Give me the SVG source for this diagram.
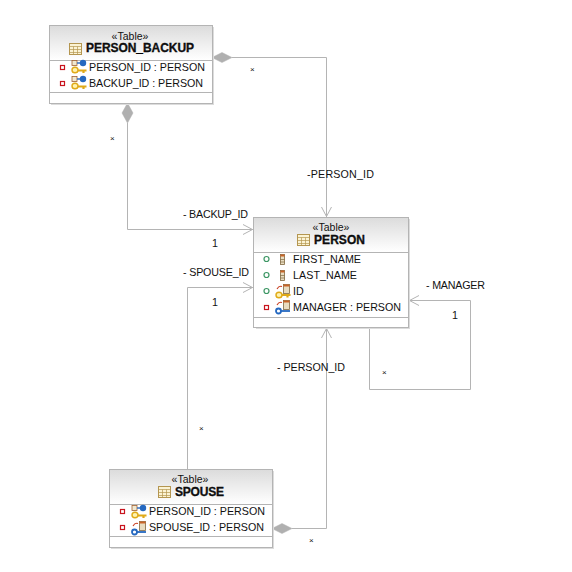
<svg xmlns="http://www.w3.org/2000/svg" width="572" height="572" viewBox="0 0 572 572">
<style>
text{font-family:"Liberation Sans",Arial,sans-serif;font-size:10.7px;fill:#111}
.st{font-size:10.500px;text-anchor:middle}
.ti{font-weight:bold;font-size:12px;stroke:#000;stroke-width:.3}
.box{fill:#fff;stroke:#b4b4b4;stroke-width:1}
.shadow{fill:#dcdcdc}
.sep{stroke:#b4b4b4;stroke-width:1}
.c{fill:none;stroke:#b4b4b4;stroke-width:1}
.d{fill:#b0b0b0;stroke:#b0b0b0;stroke-width:.5}
.sm{font-size:8px}
.vr{fill:#fff;stroke:#c8141e;stroke-width:1.200}
.vg{fill:#fff;stroke:#3c9664;stroke-width:1.200}
.tg{fill:#fbf3d4;stroke:#b49650;stroke-width:1}
.tl{stroke:#b49650;stroke-width:.7}
.key{fill:none;stroke:#e0aa18;stroke-width:2.200}
.bkey{fill:none;stroke:#2468c0;stroke-width:1.800}
.col{fill:#e8dcc0;stroke:#806840;stroke-width:.8}
.colr{fill:#c86428}
</style>
<defs>
<linearGradient id="hdr" x1="0" y1="0" x2="0" y2="1"><stop offset="0" stop-color="#dcdcdc"/><stop offset="1" stop-color="#ffffff"/></linearGradient>
<g id="tbl"><rect class="tg" x="0.500" y="0.500" width="12" height="11"/><path class="tl" d="M0.500 3.500H12.500M0.500 6.500H12.500M0.500 9.500H12.500M4.500 3.500V11.500M8.500 3.500V11.500"/></g>
<g id="column"><rect class="col" x="0.500" y="0.500" width="4" height="10"/><rect class="colr" x="0.500" y="0.500" width="4" height="2"/><path d="M0.500 5.500H4.500M0.500 8H4.500" stroke="#806840" stroke-width=".7"/></g>
<g id="pfk"><rect x="1" y="0.500" width="5" height="5" fill="#f0e8d0" stroke="#a06030" stroke-width=".8"/><path d="M6 3h4" stroke="#2468c0" stroke-width="1.400"/><circle cx="12" cy="3" r="3.200" fill="#2468c0"/><ellipse cx="4" cy="10" rx="3" ry="2.800" fill="#fff3b0" stroke="#e0aa18" stroke-width="1.400"/><path class="key" d="M7 10.500H15.500M12.500 10.500v2.500"/></g>
<g id="pk"><rect x="8.500" y="0.500" width="6" height="9" class="col"/><path d="M8.500 0.500h6v2h-6z" fill="#c86428"/><path d="M2 5q2-3.500 5-2.500" fill="none" stroke="#c83c1e" stroke-width="1.100"/><ellipse cx="4" cy="11" rx="3" ry="2.800" fill="#fff3b0" stroke="#e0aa18" stroke-width="1.400"/><path class="key" d="M7 11H15.500M12.500 11v2.500"/></g>
<g id="fk"><rect x="8.500" y="0.500" width="6" height="9" class="col"/><path d="M8.500 0.500h6v2h-6z" fill="#c86428"/><path d="M2 5q2-3.500 5-2.500" fill="none" stroke="#c83c1e" stroke-width="1.100"/><circle class="bkey" cx="3.500" cy="11" r="2.500" fill="#fff"/><path class="bkey" d="M6 11H15"/></g>
</defs>
<g id="connectors">
<path class="c" d="M232 57.500H326.500V217"/><path class="c" d="M321.500 207L326.500 216.500L331.500 207"/>
<polygon class="d" points="212,57.500 222,52.500 232,57.500 222,62.500"/>
<path class="c" d="M127.500 123V229.500H253"/><path class="c" d="M243 224.500L252.500 229.500L243 234.500"/>
<polygon class="d" points="127.500,103 133,113 127.500,123 122,113"/>
<path class="c" d="M187.500 469V287.500H253"/><path class="c" d="M243 282.500L252.500 287.500L243 292.500"/>
<path class="c" d="M292 528.500H326.500V328"/><path class="c" d="M321.500 338L326.500 328.500L331.500 338"/>
<polygon class="d" points="272,528.500 282,523.500 292,528.500 282,533.500"/>
<path class="c" d="M369.500 327V389.500H470.500V300.500H409"/><path class="c" d="M419 295.500L409.500 300.500L419 305.500"/>
<text x="183" y="218" textLength="65">- BACKUP_ID</text>
<text x="183" y="276" textLength="66">- SPOUSE_ID</text>
<text x="307" y="178" textLength="67">-PERSON_ID</text>
<text x="277" y="371" textLength="68">- PERSON_ID</text>
<text x="426" y="289" textLength="59">- MANAGER</text>
<text x="212" y="247">1</text>
<text x="212" y="306">1</text>
<text x="452" y="319">1</text>
<text class="sm" x="250" y="72">×</text>
<text class="sm" x="110" y="141">×</text>
<text class="sm" x="199" y="431">×</text>
<text class="sm" x="382" y="375">×</text>
<text class="sm" x="309" y="543">×</text>
</g>
<g id="person-backup">
<rect class="shadow" x="51" y="27" width="163" height="78"/>
<rect class="box" x="49.500" y="25.500" width="163" height="78"/>
<rect x="50" y="26" width="162" height="34" fill="url(#hdr)"/>
<path class="sep" d="M49.500 60.500H212.500M49.500 92.500H212.500"/>
<text class="st" x="130" y="40">«Table»</text>
<use href="#tbl" x="69" y="43"/>
<text class="ti" x="86" y="52" textLength="108">PERSON_BACKUP</text>
<rect class="vr" x="60.500" y="65.500" width="4" height="4"/><use href="#pfk" x="71" y="60"/><text x="89" y="71" textLength="116">PERSON_ID : PERSON</text>
<rect class="vr" x="60.500" y="81.500" width="4" height="4"/><use href="#pfk" x="71" y="76"/><text x="89" y="87" textLength="114">BACKUP_ID : PERSON</text>
</g>
<g id="person">
<rect class="shadow" x="256" y="219" width="154" height="110"/>
<rect class="box" x="253.500" y="217.500" width="155" height="110"/>
<rect x="254" y="218" width="154" height="34" fill="url(#hdr)"/>
<path class="sep" d="M253.500 252.500H408.500M253.500 317.500H408.500"/>
<text class="st" x="331" y="231">«Table»</text>
<use href="#tbl" x="297" y="234"/>
<text class="ti" x="314" y="244" textLength="51">PERSON</text>
<circle class="vg" cx="266.500" cy="259" r="2.500"/><use href="#column" x="280" y="254"/><text x="293" y="263" textLength="68">FIRST_NAME</text>
<circle class="vg" cx="266.500" cy="275" r="2.500"/><use href="#column" x="280" y="270"/><text x="293" y="279" textLength="64">LAST_NAME</text>
<circle class="vg" cx="266.500" cy="291" r="2.500"/><use href="#pk" x="275" y="284"/><text x="293" y="295">ID</text>
<rect class="vr" x="264.500" y="305.500" width="4" height="4"/><use href="#fk" x="275" y="300"/><text x="293" y="311" textLength="108">MANAGER : PERSON</text>
</g>
<g id="spouse">
<rect class="shadow" x="111" y="471" width="163" height="78"/>
<rect class="box" x="109.500" y="469.500" width="163" height="78"/>
<rect x="110" y="470" width="162" height="34" fill="url(#hdr)"/>
<path class="sep" d="M109.500 504.500H272.500M109.500 536.500H272.500"/>
<text class="st" x="190" y="483">«Table»</text>
<use href="#tbl" x="158" y="486"/>
<text class="ti" x="175" y="496" textLength="49">SPOUSE</text>
<rect class="vr" x="120.500" y="509.500" width="4" height="4"/><use href="#pfk" x="131" y="505"/><text x="149" y="515" textLength="116">PERSON_ID : PERSON</text>
<rect class="vr" x="120.500" y="525.500" width="4" height="4"/><use href="#fk" x="131" y="521"/><text x="149" y="531" textLength="115">SPOUSE_ID : PERSON</text>
</g>
</svg>
